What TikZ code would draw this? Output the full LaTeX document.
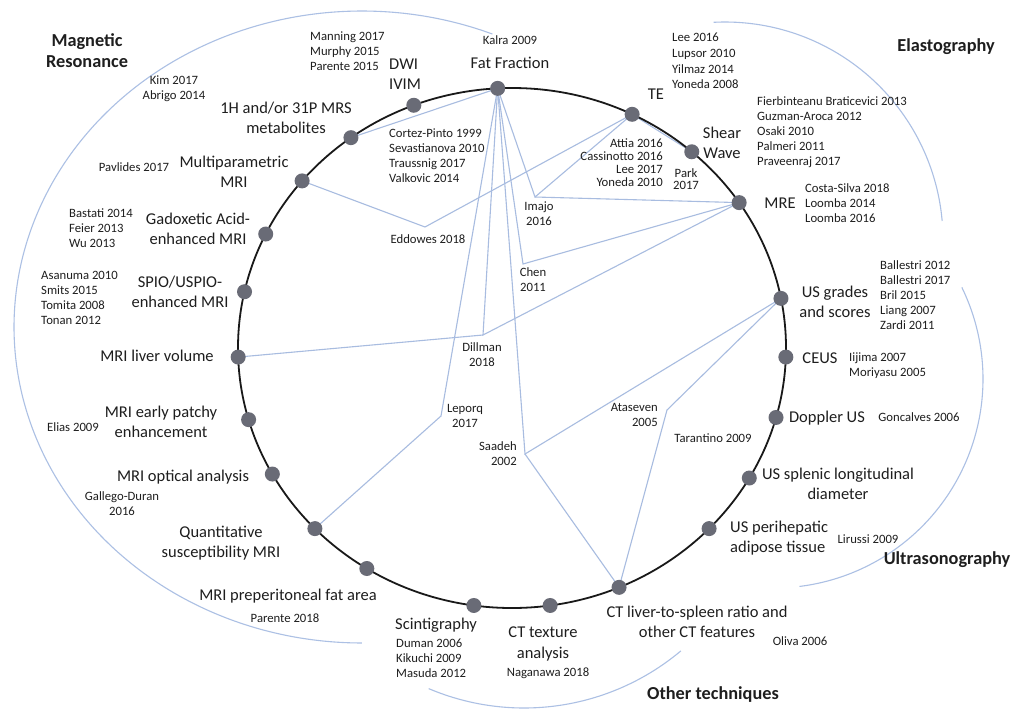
\documentclass[tikz,border=0pt]{standalone}
\usepackage{fontspec}
\setmainfont{Carlito}
\pgfdeclarelayer{bg}
\pgfsetlayers{bg,main}
\definecolor{txt}{RGB}{30,30,30}
\definecolor{linkblue}{RGB}{168,188,224}
\definecolor{arcblue}{RGB}{172,192,228}
\definecolor{dotgray}{RGB}{105,107,118}
\definecolor{ringblack}{RGB}{25,25,25}
\tikzset{
  dot/.style={circle, fill=dotgray, minimum size=15pt, inner sep=0pt},
  link/.style={draw=linkblue, line width=1.1pt},
  grparc/.style={draw=arcblue, line width=1.1pt},
  ring/.style={draw=ringblack, line width=1.8pt},
  ref/.style={inner sep=0pt, font=\fontsize{12.7}{15}\selectfont, text=txt},
  lab/.style={inner sep=0pt, font=\fontsize{16.5}{20.5}\selectfont, text=txt},
  grp/.style={inner sep=0pt, font=\fontsize{18.3}{21}\selectfont\bfseries, text=txt},
}
\begin{document}
\begin{tikzpicture}[x=1pt,y=-1pt]
\useasboundingbox (0,0) rectangle (1028,710);

% technique dots
\node[dot] (ff)      at ({512+274*cos(-93)},{348+260*sin(-93)}) {};
\node[dot] (dwi)     at ({512+274*cos(-111)},{348+260*sin(-111)}) {};
\node[dot] (mrs)     at ({512+274*cos(-126)},{348+260*sin(-126)}) {};
\node[dot] (mpm)     at ({512+274*cos(-140)},{348+260*sin(-140)}) {};
\node[dot] (gad)     at ({512+274*cos(-154)},{348+260*sin(-154)}) {};
\node[dot] (spio)    at ({512+274*cos(-167.5)},{348+260*sin(-167.5)}) {};
\node[dot] (vol)     at ({512+274*cos(178)},{348+260*sin(178)}) {};
\node[dot] (patchy)  at ({512+274*cos(164)},{348+260*sin(164)}) {};
\node[dot] (optical) at ({512+274*cos(151)},{348+260*sin(151)}) {};
\node[dot] (qsm)     at ({512+274*cos(136)},{348+260*sin(136)}) {};
\node[dot] (preper)  at ({512+274*cos(122)},{348+260*sin(122)}) {};
\node[dot] (scint)   at ({512+274*cos(98)},{348+260*sin(98)}) {};
\node[dot] (cttex)   at ({512+274*cos(82)},{348+260*sin(82)}) {};
\node[dot] (ctls)    at ({512+274*cos(67)},{348+260*sin(67)}) {};
\node[dot] (usperi)  at ({512+274*cos(44)},{348+260*sin(44)}) {};
\node[dot] (ussplen) at ({512+274*cos(30)},{348+260*sin(30)}) {};
\node[dot] (doppler) at ({512+274*cos(15.5)},{348+260*sin(15.5)}) {};
\node[dot] (ceus)    at ({512+274*cos(2)},{348+260*sin(2)}) {};
\node[dot] (usgr)    at ({512+274*cos(-11)},{348+260*sin(-11)}) {};
\node[dot] (mre)     at ({512+274*cos(-34)},{348+260*sin(-34)}) {};
\node[dot] (shear)   at ({512+274*cos(-49)},{348+260*sin(-49)}) {};
\node[dot] (te)      at ({512+274*cos(-64)},{348+260*sin(-64)}) {};

% junction points
\coordinate (jedd)   at (425,227);
\coordinate (jimajo) at (535,197);
\coordinate (jchen)  at (523,264);
\coordinate (jdill)  at (483,335);
\coordinate (jlep)   at (441,416);
\coordinate (jsaad)  at (525,454);
\coordinate (jata)   at (667,410);

\begin{pgfonlayer}{bg}
  \fill[white] (0,0) rectangle (1028,710);
  % group arcs
  \draw[grparc] plot[domain=68:270, samples=120, smooth] ({362+348*cos(\x)},{327-316*sin(\x)});
  \draw[grparc] plot[domain=5:93, samples=60, smooth] ({725+218*cos(\x)},{240-218*sin(\x)});
  \draw[grparc] plot[domain=-83:26, samples=60, smooth] ({774+209*cos(\x)},{379-209*sin(\x)});
  \draw[grparc] plot[domain=-113:-50, samples=40, smooth] ({524+244*cos(\x)},{464-244*sin(\x)});
  % study links
  \draw[link] (mrs.center) -- (ff.center);
  \draw[link] (mpm.center) -- (jedd) -- (te.center);
  \draw[link] (ff.center) -- (jimajo) -- (te.center);
  \draw[link] (jimajo) -- (mre.center);
  \draw[link] (ff.center) -- (jchen) -- (mre.center);
  \draw[link] (ff.center) -- (jdill) -- (mre.center);
  \draw[link] (vol.center) -- (jdill);
  \draw[link] (ff.center) -- (jlep) -- (qsm.center);
  \draw[link] (ff.center) -- (jsaad) -- (usgr.center);
  \draw[link] (jsaad) -- (ctls.center);
  \draw[link] (usgr.center) -- (jata) -- (ctls.center);
  \draw[link] (te.center) -- (shear.center);
  % main ring
  \draw[ring] (512,348) ellipse [x radius=274, y radius=260];
\end{pgfonlayer}

% group titles
\node[grp, align=center] (tmr) at (87,51) {Magnetic\\Resonance};
\node[grp] (tel) at (946,47) {Elastography};
\node[grp] (tus) at (947,560) {Ultrasonography};
\node[grp] (tot) at (713,695) {Other techniques};

% technique labels
\node[lab] (lff) at (510,63) {Fat Fraction};
\node[lab, align=left, anchor=west] (ldwi) at (389,74) {DWI\\IVIM};
\node[lab, align=center] (lmrs) at (286,118) {1H and/or 31P MRS\\metabolites};
\node[lab, align=center] (lmpm) at (234,172) {Multiparametric\\MRI};
\node[lab, align=center] (lgad) at (198,229) {Gadoxetic Acid-\\enhanced MRI};
\node[lab, align=center] (lspio) at (180,292) {SPIO/USPIO-\\enhanced MRI};
\node[lab] (lvol) at (157,356) {MRI liver volume};
\node[lab, align=center] (lpatchy) at (161,422) {MRI early patchy\\enhancement};
\node[lab] (lopt) at (183,477) {MRI optical analysis};
\node[lab, align=center] (lqsm) at (221,543) {Quantitative\\susceptibility MRI};
\node[lab] (lpre) at (288,596) {MRI preperitoneal fat area};
\node[lab, anchor=west] (lscint) at (395,625) {Scintigraphy};
\node[lab, align=center] (lcttex) at (543,644) {CT texture\\analysis};
\node[lab, align=center] (lctls) at (697,622) {CT liver-to-spleen ratio and\\other CT features};
\node[lab, align=left, anchor=west] (lperi) at (730,538) {US perihepatic\\adipose tissue};
\node[lab, align=center] (lsplen) at (838,484) {US splenic longitudinal\\diameter};
\node[lab] (ldop) at (827,418) {Doppler US};
\node[lab] (lceus) at (820,358) {CEUS};
\node[lab, align=center] (lusgr) at (835,302) {US grades\\and scores};
\node[lab] (lmre) at (780,203) {MRE};
\node[lab, align=center] (lshear) at (722,143) {Shear\\Wave};
\node[lab] (lte) at (656,94) {TE};

% references
\node[ref] (rkalra) at (510,40) {Kalra 2009};
\node[ref, align=left, anchor=west] (rdwi) at (310,51) {Manning 2017\\Murphy 2015\\Parente 2015};
\node[ref, align=center] (rmrs) at (174,89) {Kim 2017\\Abrigo 2014};
\node[ref] (rmpm) at (134,167) {Pavlides 2017};
\node[ref, align=left, anchor=west] (rgad) at (69,228) {Bastati 2014\\Feier 2013\\Wu 2013};
\node[ref, align=left, anchor=west] (rspio) at (41,298) {Asanuma 2010\\Smits 2015\\Tomita 2008\\Tonan 2012};
\node[ref] (rpatchy) at (73,427) {Elias 2009};
\node[ref, align=center] (ropt) at (122,504) {Gallego-Duran\\2016};
\node[ref] (rpre) at (285,618) {Parente 2018};
\node[ref, align=left, anchor=west] (rscint) at (396,658) {Duman 2006\\Kikuchi 2009\\Masuda 2012};
\node[ref] (rcttex) at (548,673) {Naganawa 2018};
\node[ref] (rctls) at (800,641) {Oliva 2006};
\node[ref] (rperi) at (868,539) {Lirussi 2009};
\node[ref] (rdop) at (919,417) {Goncalves 2006};
\node[ref] (rtar) at (713,438) {Tarantino 2009};
\node[ref, align=right, anchor=east] (rata) at (658,415) {Ataseven\\2005};
\node[ref, align=left, anchor=west] (rceus) at (849,366) {Iijima 2007\\Moriyasu 2005};
\node[ref, align=left, anchor=west] (rusgr) at (880,295) {Ballestri 2012\\Ballestri 2017\\Bril 2015\\Liang 2007\\Zardi 2011};
\node[ref, align=center] (rchen) at (533,280) {Chen\\2011};
\node[ref, align=center] (rimajo) at (539,214) {Imajo\\2016};
\node[ref] (redd) at (428,239) {Eddowes 2018};
\node[ref, align=left, anchor=west] (rff) at (389,156) {Cortez-Pinto 1999\\Sevastianova 2010\\Traussnig 2017\\Valkovic 2014};
\node[ref, align=center] (rdill) at (482,355) {Dillman\\2018};
\node[ref, align=center] (rlep) at (465,416) {Leporq\\2017};
\node[ref, align=right, anchor=east] (rsaad) at (517,454) {Saadeh\\2002};
\node[ref, align=right, anchor=east, font=\fontsize{12.7}{13}\selectfont] (rte2) at (663,163) {Attia 2016\\Cassinotto 2016\\Lee 2017\\Yoneda 2010};
\node[ref, align=center, font=\fontsize{12.7}{12.5}\selectfont] (rpark) at (686,179) {Park\\2017};
\node[ref, align=left, anchor=west, font=\fontsize{12.7}{15.7}\selectfont] (rte) at (672,61) {Lee 2016\\Lupsor 2010\\Yilmaz 2014\\Yoneda 2008};
\node[ref, align=left, anchor=west] (rshear) at (757,132) {Fierbinteanu Braticevici 2013\\Guzman-Aroca 2012\\Osaki 2010\\Palmeri 2011\\Praveenraj 2017};
\node[ref, align=left, anchor=west] (rmre) at (805,203) {Costa-Silva 2018\\Loomba 2014\\Loomba 2016};
\end{tikzpicture}
\end{document}
